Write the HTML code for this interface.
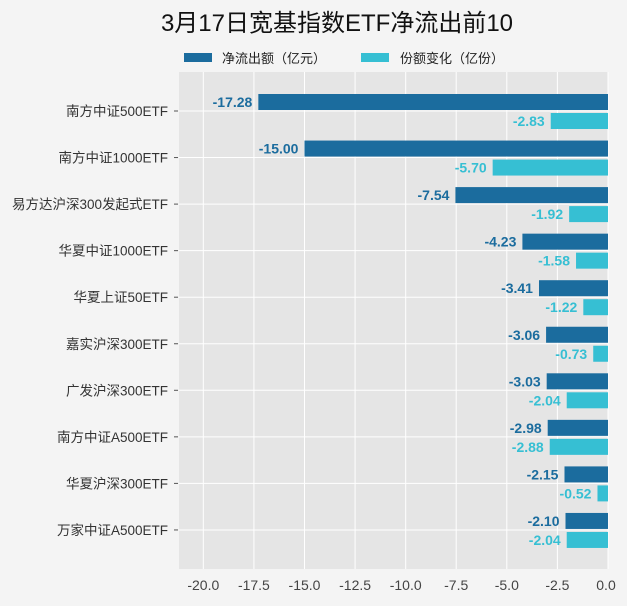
<!DOCTYPE html>
<html><head><meta charset="utf-8"><style>
body{margin:0;background:#f4f4f4}
svg{display:block;font-family:"Liberation Sans","Noto Sans CJK SC",sans-serif}
</style></head><body>
<svg width="627" height="606" xmlns="http://www.w3.org/2000/svg">
<rect width="627" height="606" fill="#f4f4f4"/>
<text x="337" y="31" font-size="24" text-anchor="middle" fill="#111">3月17日宽基指数ETF净流出前10</text>
<rect x="184" y="53" width="28" height="9" fill="#1b6c9e"/>
<text x="222" y="63" font-size="13" fill="#222">净流出额（亿元）</text>
<rect x="361" y="53" width="28" height="9" fill="#36bfd3"/>
<text x="400" y="63" font-size="13" fill="#222">份额变化（亿份）</text>
<rect x="179" y="72" width="429" height="497" fill="#e5e5e5"/>
<g stroke="#fff" stroke-width="1">
<line x1="203.3" y1="72" x2="203.3" y2="569"/><line x1="253.9" y1="72" x2="253.9" y2="569"/>
<line x1="304.5" y1="72" x2="304.5" y2="569"/><line x1="355.1" y1="72" x2="355.1" y2="569"/>
<line x1="405.7" y1="72" x2="405.7" y2="569"/><line x1="456.2" y1="72" x2="456.2" y2="569"/>
<line x1="506.8" y1="72" x2="506.8" y2="569"/><line x1="557.4" y1="72" x2="557.4" y2="569"/>
<line x1="608" y1="72" x2="608" y2="569"/>
</g>
<g id="rows" font-size="14" font-weight="bold"></g>
<g id="cats" font-size="13.5" fill="#333" text-anchor="end"></g>
<g font-size="14" fill="#444" text-anchor="middle">
<text x="203.3" y="590">-20.0</text><text x="253.9" y="590">-17.5</text><text x="304.5" y="590">-15.0</text>
<text x="355.1" y="590">-12.5</text><text x="405.7" y="590">-10.0</text><text x="456.2" y="590">-7.5</text>
<text x="506.8" y="590">-5.0</text><text x="557.4" y="590">-2.5</text><text x="606" y="590">0.0</text>
</g>
<script>
var d=[["南方中证500ETF",-17.28,-2.83],["南方中证1000ETF",-15.00,-5.70],["易方达沪深300发起式ETF",-7.54,-1.92],["华夏中证1000ETF",-4.23,-1.58],["华夏上证50ETF",-3.41,-1.22],["嘉实沪深300ETF",-3.06,-0.73],["广发沪深300ETF",-3.03,-2.04],["南方中证A500ETF",-2.98,-2.88],["华夏沪深300ETF",-2.15,-0.52],["万家中证A500ETF",-2.10,-2.04]];
var ns="http://www.w3.org/2000/svg",g=document.getElementById("rows"),c=document.getElementById("cats"),s=20.235;
function el(p,t,a,txt){var e=document.createElementNS(ns,t);for(var k in a)e.setAttribute(k,a[k]);if(txt)e.textContent=txt;p.appendChild(e);}
d.forEach(function(r,i){var y=111+i*46.55;
el(g,"line",{x1:179,x2:608,y1:y,y2:y,stroke:"#fff"});
var w1=-r[1]*s,w2=-r[2]*s;
el(g,"rect",{x:608-w1,y:y-17,width:w1,height:16,fill:"#1b6c9e"});
el(g,"rect",{x:608-w2,y:y+2,width:w2,height:16,fill:"#36bfd3"});
el(g,"text",{x:602-w1,y:y-4,"text-anchor":"end",fill:"#1b6c9e"},r[1].toFixed(2));
el(g,"text",{x:602-w2,y:y+15,"text-anchor":"end",fill:"#36bfd3"},r[2].toFixed(2));
el(c,"text",{x:168,y:y+5},r[0]);
el(c,"line",{x1:174,x2:178,y1:y,y2:y,stroke:"#555"});
});
</script>
</svg>
</body></html>
